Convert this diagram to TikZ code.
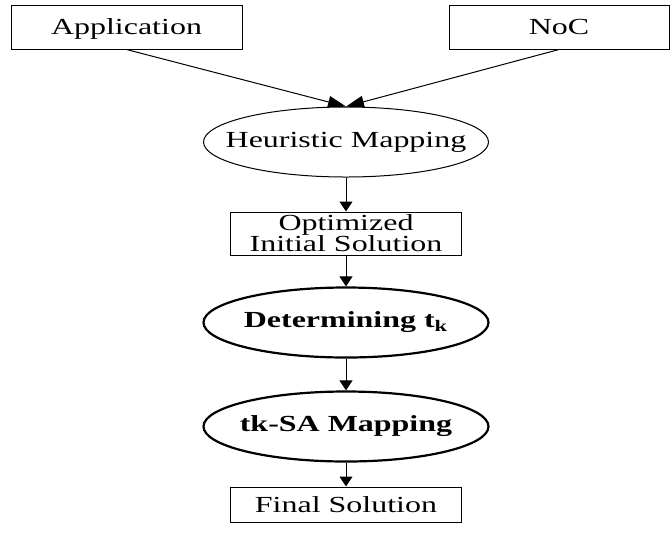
\documentclass[tikz,border=0pt]{standalone}
\usepackage{fontspec}
\setmainfont{Liberation Serif}[FakeStretch=1.39]
\usetikzlibrary{arrows.meta,positioning,shapes.geometric,backgrounds}

\begin{document}
\begin{tikzpicture}[x=0.5pt, y=-0.5pt,
  font=\fontsize{11.5}{14}\selectfont,
  box/.style={draw, fill=white, rectangle, align=center, inner sep=0pt, line width=0.5pt,
              minimum width=115.5pt, minimum height=22pt},
  io/.style={box, text depth=0pt},
  proc/.style={box, minimum height=21.5pt, font=\fontsize{11.5}{10.5}\selectfont},
  oval/.style={draw, fill=white, ellipse, inner xsep=-12pt, inner ysep=0pt, line width=0.5pt,
               minimum width=142.5pt, minimum height=35pt},
  boldoval/.style={oval, line width=1.1pt, font=\fontsize{11.5}{14}\selectfont\bfseries},
  arrow/.style={-{Triangle[width=6.5pt,length=5pt]}, line width=0.5pt},
  merge/.style={-{Triangle[width=6pt,length=9pt]}, line width=0.5pt}]
\useasboundingbox (0,0) rectangle (670,532);
\node[io] (app) at (126.5,27) {Application};
\node[io, minimum width=110pt] (noc) at (559,27) {NoC};
\node[oval] (heur) at (346,142) {Heuristic Mapping};
\node[proc] (opt) at (346,233.5) {Optimized\\Initial Solution};
\node[boldoval] (det) at (346,322.5) {Determining t\textsubscript{k}};
\node[boldoval] (tksa) at (346,426.5) {tk-SA Mapping};
\node[io, minimum height=17.5pt] (fin) at (346,504.5) {Final Solution};
% the two inputs meet on top of the first ellipse, tips hidden under its fill
\begin{scope}[on background layer]
  \draw[merge] (app.south) -- (heur.north);
  \draw[merge] (noc.south) -- (heur.north);
\end{scope}
\draw[arrow] (heur) -- (opt);
\draw[arrow] (opt) -- (det);
\draw[arrow] (det) -- (tksa);
\draw[arrow] (tksa) -- (fin);
\end{tikzpicture}
\end{document}
